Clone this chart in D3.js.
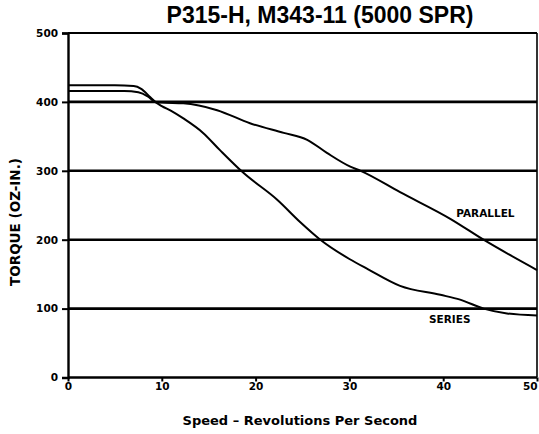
<!DOCTYPE html>
<html>
<head>
<meta charset="utf-8">
<script src="https://cdn.jsdelivr.net/npm/d3@7"></script>
<style>
  body { margin: 0; background: white; }
  text { font-family: "DejaVu Sans", sans-serif; font-weight: bold; fill: black; }
</style>
</head>
<body>
<div id="chart"></div>
<script>
/* CONSTANTS AND GLOBALS */
const width = 539;
const height = 434;
const margin = { top: 33, right: 2, bottom: 56.5, left: 68 };

const title = "P315-H, M343-11 (5000 SPR)";
const xLabel = "Speed \u2013 Revolutions Per Second";
const yLabel = "TORQUE (OZ-IN.)";

const xTicks = [0, 10, 20, 30, 40, 50];
const yTicks = [0, 100, 200, 300, 400, 500];

// SERIES curve (speed rps, torque oz-in)
const seriesSpeed  = [0, 5, 7, 7.8, 8.75, 9.3, 10, 11, 12.3, 14.4, 16.2, 18.7, 22.3, 24.8, 26.9, 30, 32, 35.4, 39.7, 41.8, 44.3, 46.8, 50];
const seriesTorque = [424, 424, 423, 419, 407, 400, 394, 387, 376, 355, 330, 297, 258, 225, 200, 172, 157, 133, 120, 113, 100, 93, 90];

// PARALLEL curve
const parallelSpeed  = [0, 6, 7.5, 8.5, 9.3, 10, 12.3, 15.9, 19.4, 23, 25.5, 27.6, 30.1, 31.2, 35.4, 40.8, 44.3, 50];
const parallelTorque = [416, 416, 414, 408, 400, 399, 398, 388, 369, 355, 345, 326, 306, 300, 269, 230, 200, 156];

const curveLabels = ["PARALLEL", "SERIES"];
const labelSpeed = [44.5, 40.7];
const labelTorque = [233, 79];

/* SCALES */
const xScale = d3.scaleLinear()
  .domain([0, 50])
  .range([margin.left, width - margin.right]);

const yScale = d3.scaleLinear()
  .domain([0, 500])
  .range([height - margin.bottom, margin.top]);

/* HTML ELEMENTS */
const svg = d3.select("#chart")
  .append("svg")
  .attr("width", width)
  .attr("height", height)
  .style("background-color", "white");

// horizontal grid lines
svg.selectAll(".grid")
  .data(yTicks)
  .join("line")
  .attr("class", "grid")
  .attr("x1", xScale(0))
  .attr("x2", xScale(50))
  .attr("y1", d => yScale(d))
  .attr("y2", d => yScale(d))
  .attr("stroke", "black")
  .attr("stroke-width", d => d === 500 ? 2 : 2.6);

// right border
svg.append("line")
  .attr("x1", xScale(50)).attr("x2", xScale(50))
  .attr("y1", yScale(500)).attr("y2", yScale(0))
  .attr("stroke", "black")
  .attr("stroke-width", 1.6);

// y axis
const yAxis = d3.axisLeft(yScale)
  .tickValues(yTicks)
  .tickSize(6)
  .tickPadding(4);

svg.append("g")
  .attr("transform", `translate(${margin.left},0)`)
  .call(yAxis)
  .call(g => g.select(".domain").attr("stroke-width", 2.4))
  .call(g => g.selectAll(".tick line").attr("stroke-width", 2))
  .call(g => g.selectAll("text").style("font-size", "10.5px").style("font-family", "'DejaVu Sans'").style("font-weight", "bold"));

// x axis
const xAxis = d3.axisBottom(xScale)
  .tickValues(xTicks)
  .tickSize(4)
  .tickSizeOuter(0)
  .tickPadding(1);

svg.append("g")
  .attr("transform", `translate(0,${yScale(0)})`)
  .call(xAxis)
  .call(g => g.select(".domain").remove())
  .call(g => g.selectAll(".tick line").attr("stroke-width", 2))
  .call(g => g.selectAll("text")
    .style("font-size", "10.5px")
    .style("font-family", "'DejaVu Sans'")
    .style("font-weight", "bold")
    .attr("text-anchor", d => d === 50 ? "end" : "middle"));

// curves
const line = d3.line()
  .x(d => xScale(d[0]))
  .y(d => yScale(d[1]))
  .curve(d3.curveMonotoneX);

const curves = [
  d3.zip(seriesSpeed, seriesTorque),
  d3.zip(parallelSpeed, parallelTorque)
];

svg.selectAll(".curve")
  .data(curves)
  .join("path")
  .attr("class", "curve")
  .attr("d", line)
  .attr("fill", "none")
  .attr("stroke", "black")
  .attr("stroke-width", 2);

// curve labels
svg.selectAll(".clabel")
  .data(curveLabels)
  .join("text")
  .attr("class", "clabel")
  .attr("x", (d, i) => xScale(labelSpeed[i]))
  .attr("y", (d, i) => yScale(labelTorque[i]))
  .attr("text-anchor", "middle")
  .style("font-size", "10.5px")
  .text(d => d);

// title
svg.append("text")
  .attr("x", 320)
  .attr("y", 23)
  .attr("text-anchor", "middle")
  .style("font-family", "'Liberation Sans', Arial, sans-serif")
  .style("font-size", "23px")
  .text(title);

// axis titles
svg.append("text")
  .attr("x", 300)
  .attr("y", 425)
  .attr("text-anchor", "middle")
  .style("font-size", "13px")
  .text(xLabel);

svg.append("text")
  .attr("transform", `translate(20,${222}) rotate(-90)`)
  .attr("text-anchor", "middle")
  .style("font-size", "13.5px")
  .text(yLabel);
</script>
</body>
</html>
